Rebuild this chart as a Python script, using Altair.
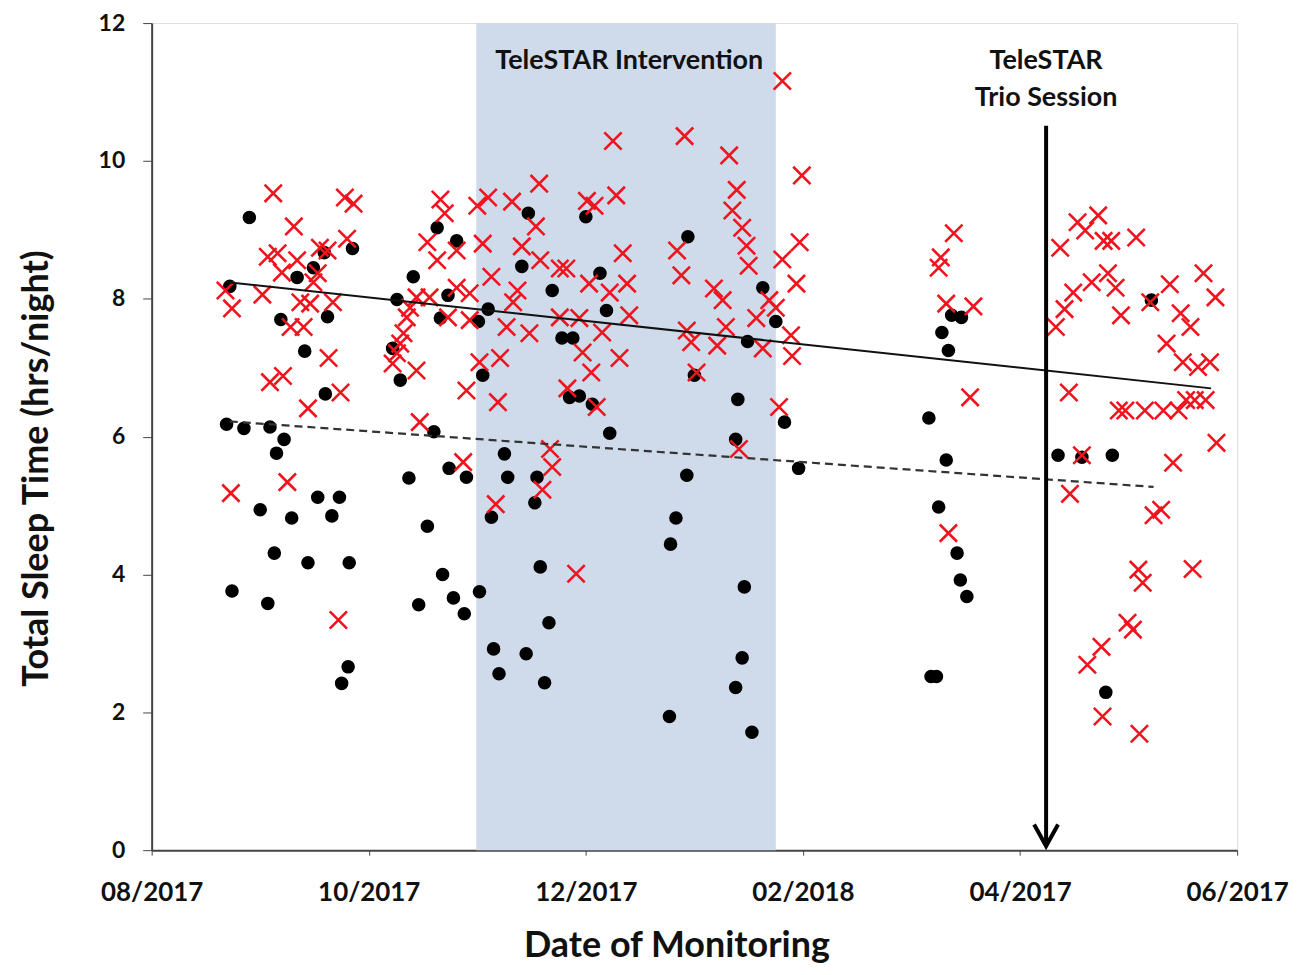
import altair as alt
import pandas as pd

# ---------------- data (x = months since 08/2017, y = hours/night) ----------------
tick_values = [0, 2, 4, 6, 8, 10]
tick_labels = ["08/2017", "10/2017", "12/2017", "02/2018", "04/2017", "06/2017"]
y_ticks = [0, 2, 4, 6, 8, 10, 12]

black_month = [0.90, 0.72, 1.34, 1.49, 1.59, 1.85, 2.63, 2.81, 1.19, 1.62, 2.26, 2.41, 2.73, 2.66, 1.41,
               2.22, 2.29, 1.60, 0.69, 0.85, 1.09, 1.22, 1.15, 2.60, 2.37, 2.74, 2.90, 1.53, 1.73, 1.00,
               1.29, 1.66, 2.54, 1.13, 1.44, 1.82, 2.68, 0.74, 1.07, 2.46, 2.78, 2.88, 1.81, 1.75,
               3.47, 4.00, 4.94, 3.41, 4.13, 3.69, 5.63, 3.10, 3.01, 4.19, 5.75, 3.78, 3.88, 5.49, 3.05,
               5.00, 3.85, 3.94, 4.06, 5.40, 5.83, 4.22, 5.38, 3.25, 3.28, 3.55, 4.93, 3.53, 3.13, 4.83,
               4.78, 3.58, 3.02, 5.46, 3.66, 3.15, 3.45, 3.20, 3.62, 5.44, 5.38, 4.77, 5.53,
               5.96, 7.37, 7.46, 7.28, 7.34, 7.16, 7.32, 7.25, 7.42, 7.45, 7.51, 7.18, 7.23,
               9.21, 8.35, 8.57, 8.85, 8.79]
black_hours = [9.18, 8.18, 8.31, 8.45, 8.67, 8.73, 9.03, 8.84, 7.70, 7.74, 7.99, 8.32, 8.05, 7.72, 7.24,
               7.28, 6.82, 6.62, 6.18, 6.12, 6.14, 5.96, 5.76, 6.07, 5.40, 5.54, 5.41, 5.12, 5.12, 4.94,
               4.82, 4.85, 4.70, 4.31, 4.17, 4.17, 4.00, 3.76, 3.58, 3.56, 3.66, 3.43, 2.66, 2.42,
               9.24, 9.19, 8.90, 8.47, 8.37, 8.12, 8.16, 7.85, 7.67, 7.83, 7.67, 7.43, 7.43, 7.38, 6.89,
               6.89, 6.57, 6.59, 6.47, 6.54, 6.21, 6.05, 5.96, 5.75, 5.41, 5.41, 5.44, 5.04, 4.83, 4.82,
               4.44, 4.11, 3.75, 3.82, 3.30, 2.92, 2.85, 2.56, 2.43, 2.79, 2.36, 1.94, 1.71,
               5.54, 7.76, 7.73, 7.51, 7.25, 6.27, 5.66, 4.98, 4.31, 3.92, 3.68, 2.52, 2.52,
               7.98, 5.73, 5.70, 5.73, 2.29]

red_before = [(1.12, 9.53), (1.78, 9.47), (1.86, 9.38), (1.31, 9.05), (1.80, 8.87), (2.66, 9.44),
              (2.70, 9.24), (3.00, 9.35), (2.54, 8.82), (2.81, 8.70), (1.55, 8.74), (1.62, 8.70),
              (1.07, 8.61), (1.16, 8.66), (1.34, 8.56), (2.63, 8.56), (1.20, 8.38), (1.53, 8.37),
              (1.49, 8.24), (0.68, 8.12), (1.02, 8.06), (0.74, 7.86), (1.37, 7.95), (1.46, 7.93),
              (1.67, 7.95), (2.44, 8.02), (2.56, 8.02), (2.81, 8.16), (2.93, 8.08), (2.38, 7.87),
              (2.35, 7.73), (2.73, 7.73), (2.93, 7.69), (1.28, 7.59), (1.40, 7.59), (2.32, 7.50),
              (2.29, 7.35), (2.26, 7.21), (2.22, 7.06), (2.44, 6.96), (1.63, 7.14), (1.09, 6.79),
              (1.21, 6.88), (1.74, 6.64), (2.90, 6.67), (1.44, 6.41), (2.47, 6.21), (2.87, 5.63),
              (1.25, 5.34), (0.73, 5.18), (1.72, 3.34)]
red_intervention = [(5.32, 10.08), (5.39, 9.58), (5.35, 9.28), (5.44, 9.03), (5.48, 8.77), (5.50, 8.48),
                    (5.81, 8.57), (3.10, 9.47), (3.32, 9.41), (3.57, 9.67), (4.01, 9.42), (4.08, 9.35),
                    (4.28, 9.50), (3.54, 9.05), (3.05, 8.80), (3.41, 8.76), (4.34, 8.66), (4.84, 8.70),
                    (4.88, 8.34), (3.58, 8.56), (3.76, 8.44), (3.82, 8.44), (3.13, 8.32), (4.03, 8.22),
                    (4.22, 8.09), (4.38, 8.22), (3.37, 8.12), (3.33, 7.95), (5.18, 8.15), (5.26, 7.98),
                    (5.69, 7.98), (3.76, 7.73), (3.94, 7.72), (4.40, 7.76), (3.27, 7.59), (3.48, 7.50),
                    (4.15, 7.51), (4.93, 7.54), (4.97, 7.37), (5.29, 7.59), (5.21, 7.32), (5.63, 7.28),
                    (5.57, 7.72), (3.21, 7.14), (3.02, 7.08), (3.97, 7.22), (4.31, 7.14), (4.05, 6.93),
                    (5.02, 6.93), (3.19, 6.50), (3.83, 6.70), (4.10, 6.43), (5.78, 6.43), (3.67, 5.82),
                    (3.69, 5.56), (5.41, 5.82), (3.60, 5.23), (3.17, 5.02), (3.91, 4.01), (4.25, 10.29),
                    (4.91, 10.36), (5.81, 11.16), (5.99, 9.79), (5.97, 8.82), (5.94, 8.22), (5.75, 7.87),
                    (5.89, 7.47), (5.90, 7.17)]
red_after = [(7.39, 8.95), (7.27, 8.60), (7.25, 8.45), (7.32, 7.93), (7.57, 7.89), (7.54, 6.57),
             (7.34, 4.60), (8.53, 9.11), (8.72, 9.21), (8.60, 8.99), (8.37, 8.74), (8.77, 8.84),
             (8.84, 8.84), (9.07, 8.89), (8.81, 8.37), (8.66, 8.24), (8.49, 8.09), (8.88, 8.16),
             (8.41, 7.85), (8.33, 7.59), (8.93, 7.76), (9.20, 7.95), (9.38, 8.21), (9.69, 8.37),
             (9.80, 8.02), (9.48, 7.79), (9.57, 7.59), (9.35, 7.35), (9.50, 7.08), (9.64, 7.01),
             (9.75, 7.08), (8.45, 6.64), (8.91, 6.38), (8.97, 6.38), (9.15, 6.38), (9.32, 6.38),
             (9.46, 6.38), (9.53, 6.53), (9.61, 6.53), (9.71, 6.53), (9.81, 5.91), (9.41, 5.62),
             (8.57, 5.73), (8.46, 5.17), (9.23, 4.86), (9.30, 4.94), (9.09, 4.07), (9.13, 3.88),
             (9.59, 4.08), (8.99, 3.30), (9.04, 3.20), (8.75, 2.95), (8.62, 2.69), (8.76, 1.94),
             (9.10, 1.69)]

trend_solid = [(0.70, 8.24), (9.76, 6.70)]
trend_dashed = [(0.72, 6.22), (9.23, 5.27)]
intervention_band = [(2.99, 5.75)]
arrow = [(8.24, 10.51, 0.06)]
annotations = [("TeleSTAR Intervention", 4.40, 11.45),
               ("TeleSTAR", 8.24, 11.45),
               ("Trio Session", 8.24, 10.91)]

# ---------------- frames ----------------
black_df = pd.DataFrame({"m": black_month, "h": black_hours})
red_df = pd.DataFrame(red_before + red_intervention + red_after, columns=["m", "h"])
solid_df = pd.DataFrame(trend_solid, columns=["m", "h"])
dashed_df = pd.DataFrame(trend_dashed, columns=["m", "h"])
band_df = pd.DataFrame(intervention_band, columns=["m1", "m2"]).assign(h1=0, h2=12)
arrow_df = pd.DataFrame(arrow, columns=["m", "h1", "h2"])
text_df = pd.DataFrame(annotations, columns=["t", "m", "h"])

FONT = "Lato"
label_expr = "[" + ",".join("'%s'" % s for s in tick_labels) + "][round(datum.value/2)]"

x_scale = alt.Scale(domain=[0, 10], nice=False, zero=False)
y_scale = alt.Scale(domain=[0, 12], nice=False)

x_axis = alt.Axis(values=tick_values, labelExpr=label_expr, title="Date of Monitoring",
                  grid=False, tickSize=5, tickColor="#444", domainColor="#444", domainWidth=2,
                  labelFont=FONT, labelFontWeight="bold", labelFontSize=26, labelColor="#111",
                  labelPadding=24, labelFlush=False, labelOverlap=False,
                  titleFont=FONT, titleFontWeight="bold", titleFontSize=36, titleColor="#111",
                  titlePadding=24, titleX=526)
y_axis = alt.Axis(values=y_ticks, format="d", title="Total Sleep Time (hrs/night)", grid=False,
                  tickSize=9, tickColor="#444", domainColor="#444", domainWidth=2,
                  labelFont=FONT, labelFontWeight="bold", labelFontSize=23, labelColor="#111",
                  labelPadding=18, labelFlush=False,
                  titleFont=FONT, titleFontWeight="bold", titleFontSize=36, titleColor="#111",
                  titlePadding=43, titleY=446)

band = alt.Chart(band_df).mark_rect(color="#cfdbeb").encode(
    x=alt.X("m1:Q", scale=x_scale, axis=x_axis), x2="m2:Q",
    y=alt.Y("h1:Q", scale=y_scale, axis=y_axis), y2="h2:Q")

dots = alt.Chart(black_df).mark_point(shape="circle", filled=True, color="black",
                                      size=185, opacity=1).encode(
    x=alt.X("m:Q", scale=x_scale), y=alt.Y("h:Q", scale=y_scale))

crosses = alt.Chart(red_df).mark_point(shape="M-1,-1L1,1M-1,1L1,-1", filled=False,
                                       color="#f0141e", strokeWidth=2.6, size=300, opacity=1).encode(
    x=alt.X("m:Q", scale=x_scale), y=alt.Y("h:Q", scale=y_scale))

solid = alt.Chart(solid_df).mark_line(color="#111", strokeWidth=2).encode(
    x=alt.X("m:Q", scale=x_scale), y=alt.Y("h:Q", scale=y_scale))

dashed = alt.Chart(dashed_df).mark_line(color="#333", strokeWidth=2.2, strokeDash=[8, 5]).encode(
    x=alt.X("m:Q", scale=x_scale), y=alt.Y("h:Q", scale=y_scale))

arrow_shaft = alt.Chart(arrow_df).mark_rule(color="black", strokeWidth=4).encode(
    x=alt.X("m:Q", scale=x_scale), y=alt.Y("h1:Q", scale=y_scale), y2="h2:Q")

arrow_head = alt.Chart(arrow_df).mark_point(shape="M-1,-1.8L0,0L1,-1.8", filled=False,
                                            color="black", strokeWidth=4, size=576, opacity=1,
                                            strokeJoin="miter").encode(
    x=alt.X("m:Q", scale=x_scale), y=alt.Y("h2:Q", scale=y_scale))

texts = alt.Chart(text_df).mark_text(font=FONT, fontWeight="bold", fontSize=27, color="#111",
                                     baseline="middle", align="center").encode(
    x=alt.X("m:Q", scale=x_scale), y=alt.Y("h:Q", scale=y_scale), text="t:N")

chart = alt.layer(band, dots, crosses, solid, dashed, arrow_shaft, arrow_head, texts).properties(
    width=1088, height=829,
    autosize=alt.AutoSizeParams(type="none"),
    padding={"left": 144, "top": 14, "right": 60, "bottom": 122},
).configure_view(stroke="#444", strokeWidth=2).configure(background="white")

chart.save("out.html", embed_options={"renderer": "svg", "actions": False})
